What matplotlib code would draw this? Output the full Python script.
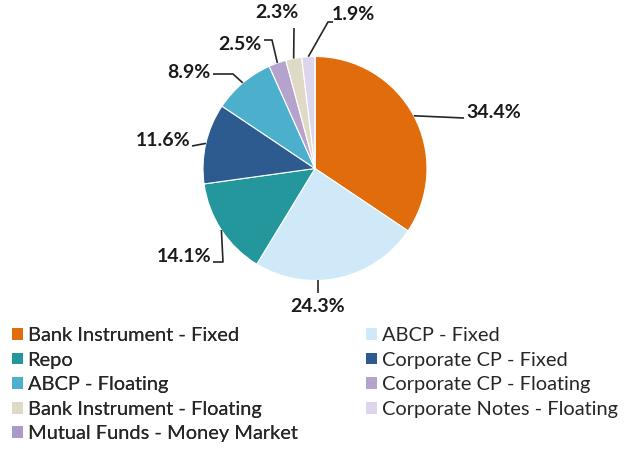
import numpy as np
import matplotlib.pyplot as plt
from matplotlib.patches import Patch

plt.rcParams['font.family'] = ['Lato', 'DejaVu Sans']

CATEGORIES = [
    "Bank Instrument - Fixed",
    "ABCP - Fixed",
    "Repo",
    "Corporate CP - Fixed",
    "ABCP - Floating",
    "Corporate CP - Floating",
    "Bank Instrument - Floating",
    "Corporate Notes - Floating",
    "Mutual Funds - Money Market",
]
SHARES = [34.4, 24.3, 14.1, 11.6, 8.9, 2.5, 2.3, 1.9, 0.0]
COLORS = ["#E06C0B", "#CFE9F9", "#23979B", "#2E5B8F", "#4CB0CC",
          "#B5A3CE", "#DEDAC6", "#DCD5EC", "#A99BC6"]

# label layout in pixels: text position, alignment, elbow points
CENTER_PX = (315, 168.5)
R_PX = 112.0
LABEL_LAYOUT = {
    0: dict(text=(466, 113), ha="left", path=[(464, 118)]),
    1: dict(text=(318, 306), ha="center", path=[(318, 293)], anchor=(318, 280)),
    2: dict(text=(211, 256), ha="right", path=[(223, 262), (213, 262)]),
    3: dict(text=(190, 140), ha="right", path=[(192, 146)]),
    4: dict(text=(211, 72), ha="right", path=[(233, 74), (213, 74)]),
    5: dict(text=(262, 44), ha="right", path=[(272, 40), (264, 40)]),
    6: dict(text=(277, 12), ha="center", path=[(294, 28)]),
    7: dict(text=(332, 15), ha="left", path=[(328, 22), (333, 22)]),
}


def px(p):
    return ((p[0] - CENTER_PX[0]) / R_PX, (CENTER_PX[1] - p[1]) / R_PX)


fig = plt.figure(figsize=(6.26, 4.5), dpi=100)
ax = fig.add_axes([0, 0, 1, 1])
wedges, _ = ax.pie(SHARES, colors=COLORS, startangle=90, counterclock=False,
                   radius=1.0, wedgeprops=dict(edgecolor="white", linewidth=0.8))

for i, w in enumerate(wedges):
    if SHARES[i] <= 0:
        continue
    lay = LABEL_LAYOUT[i]
    mid = np.deg2rad((w.theta1 + w.theta2) / 2)
    if "anchor" in lay:
        start = px(lay["anchor"])
    else:
        start = (np.cos(mid), np.sin(mid))
    pts = [start] + [px(p) for p in lay["path"]]
    xs, ys = zip(*pts)
    ax.plot(xs, ys, color="#262626", lw=1.2, solid_capstyle="butt")
    tx, ty = px(lay["text"])
    ax.text(tx, ty, f"{SHARES[i]:.1f}%", ha=lay["ha"], va="center",
            fontsize=14, fontweight="bold", color="#1a1a1a")

ax.set_xlim(-CENTER_PX[0] / R_PX, (626 - CENTER_PX[0]) / R_PX)
ax.set_ylim((CENTER_PX[1] - 450) / R_PX, CENTER_PX[1] / R_PX)
ax.set_aspect("auto")
ax.axis("off")

handles = [Patch(facecolor=c, edgecolor="none") for c in COLORS]
leg_kw = dict(frameon=False, loc="upper left", fontsize=14.4, handlelength=0.53,
              handleheight=0.53, handletextpad=0.25, labelspacing=0.38,
              borderpad=0, borderaxespad=0, labelcolor="#262626")
left = [0, 2, 4, 6, 8]
right = [1, 3, 5, 7]
leg1 = fig.legend([handles[i] for i in left], [CATEGORIES[i] for i in left],
                  bbox_to_anchor=(12 / 626, 1 - 327 / 450), **leg_kw)
fig.add_artist(leg1)
fig.legend([handles[i] for i in right], [CATEGORIES[i] for i in right],
           bbox_to_anchor=(366 / 626, 1 - 327 / 450), **leg_kw)

fig.savefig("out.png", dpi=100)
